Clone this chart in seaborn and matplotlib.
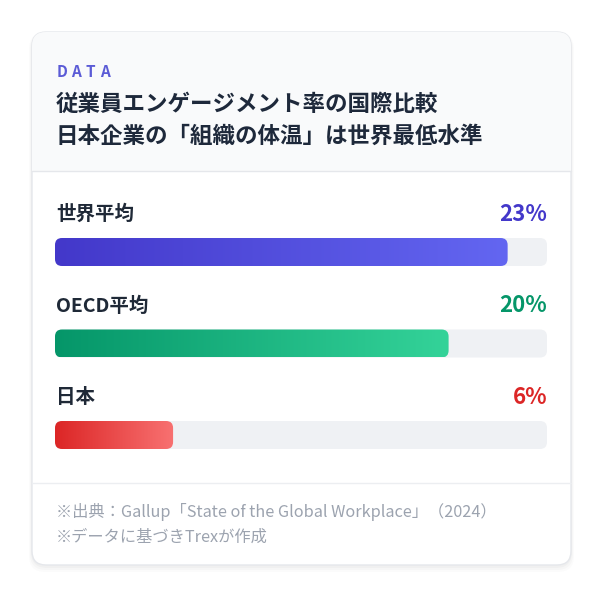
import matplotlib.pyplot as plt
import seaborn as sns
import numpy as np
from matplotlib.patches import FancyBboxPatch, Rectangle
from matplotlib.colors import LinearSegmentedColormap

# chart data
labels = ['世界平均', 'OECD平均', '日本']
rates = [23, 20, 6]
rate_texts = ['23%', '20%', '6%']
scale_max = 25

kicker = 'DATA'
title_lines = ['従業員エンゲージメント率の国際比較', '日本企業の「組織の体温」は世界最低水準']
notes = ['※出典：Gallup「State of the Global Workplace」（2024）', '※データに基づきTrexが作成']

gradients = [('#4338ca', '#6366f1'), ('#059669', '#34d399'), ('#dc2626', '#f87171')]
rate_colors = ['#4338ca', '#059669', '#dc2626']

sns.set_theme(style='white')
plt.rcParams['font.family'] = ['Noto Sans CJK JP', 'DejaVu Sans']

W, H = 606, 597
fig = plt.figure(figsize=(W / 100, H / 100), dpi=100)
fig.patch.set_facecolor('white')

# background axes in pixel coordinates for the card
bg = fig.add_axes([0, 0, 1, 1])
bg.set_xlim(0, W)
bg.set_ylim(H, 0)
bg.axis('off')

cx0, cy0, cx1, cy1 = 32, 32, 571, 565
for i, a in enumerate([0.025, 0.02, 0.015]):
    bg.add_patch(FancyBboxPatch((cx0 - 1 - i, cy0 + 1), cx1 - cx0 + 2 + 2 * i, cy1 - cy0 + 2 + 2 * i,
                                boxstyle='round,pad=0,rounding_size=16', fc='black', ec='none', alpha=a))
card = FancyBboxPatch((cx0, cy0), cx1 - cx0, cy1 - cy0, boxstyle='round,pad=0,rounding_size=14',
                      fc='white', ec='#e5e7eb', lw=1, zorder=1)
bg.add_patch(card)
header = Rectangle((cx0, cy0), cx1 - cx0, 171 - cy0, fc='#f9fafb', ec='none', zorder=1.5)
bg.add_patch(header)
header.set_clip_path(card)
bg.plot([cx0, cx1], [171, 171], color='#e5e7eb', lw=1, zorder=2)
bg.plot([cx0, cx1], [483, 483], color='#eceef1', lw=1, zorder=2)

# header texts
for k, ch in enumerate(kicker):
    bg.text(57 + k * 14.5, 72, ch, fontsize=11, fontweight='bold', color='#5b5bd6',
            va='center', ha='left', zorder=3)
for k, line in enumerate(title_lines):
    bg.text(56, 104 + k * 32, line, fontsize=16.2, fontweight='bold', color='#1e293b',
            va='center', ha='left', zorder=3)
for k, line in enumerate(notes):
    bg.text(56, 512 + k * 25, line, fontsize=11.7, color='#9ca3af',
            va='center', ha='left', zorder=3)

# bar axes
def px_axes(x0, y0, x1, y1):
    return fig.add_axes([x0 / W, 1 - y1 / H, (x1 - x0) / W, (y1 - y0) / H])

ax = px_axes(55, 200, 547, 470)
ax.patch.set_alpha(0)
bar_w = 28 / 91.5
sns.barplot(x=[scale_max] * len(labels), y=labels, orient='h', color='#eff1f4',
            width=bar_w, ax=ax, saturation=1)
sns.barplot(x=rates, y=labels, orient='h', color='#6366f1', width=bar_w, ax=ax, saturation=1)

px_per_x = 492 / scale_max
r_x = 7 / px_per_x
r_y = 7 / 91.5
n = len(labels)
patches = list(ax.patches)
for j, p in enumerate(patches):
    x, y, w, h = p.get_x(), p.get_y(), p.get_width(), p.get_height()
    p.set_visible(False)
    is_track = j < n
    fb = FancyBboxPatch((x, y), w, h, boxstyle=f'round,pad=0,rounding_size={r_x}',
                        mutation_aspect=r_y / r_x, ec='none',
                        fc='#eff1f4' if is_track else 'none', zorder=2)
    ax.add_patch(fb)
    if not is_track:
        i = j - n
        cmap = LinearSegmentedColormap.from_list(f'g{i}', gradients[i])
        im = ax.imshow(np.linspace(0, 1, 256).reshape(1, -1), cmap=cmap, aspect='auto',
                       extent=[x, x + w, y + h, y], zorder=3, interpolation='bilinear')
        im.set_clip_path(fb)

for i, (lab, txt) in enumerate(zip(labels, rate_texts)):
    ax.text(0.05, i - 0.41, lab, fontsize=14, fontweight='bold', color='#1f2937',
            va='center', ha='left')
    ax.text(scale_max, i - 0.41, txt, fontsize=16, fontweight='bold', color=rate_colors[i],
            va='center', ha='right')

ax.set_xlim(0, scale_max)
ax.set_ylim((470 - 252) / 91.5, -(252 - 200) / 91.5)
ax.axis('off')

fig.savefig('out.png', dpi=100)
